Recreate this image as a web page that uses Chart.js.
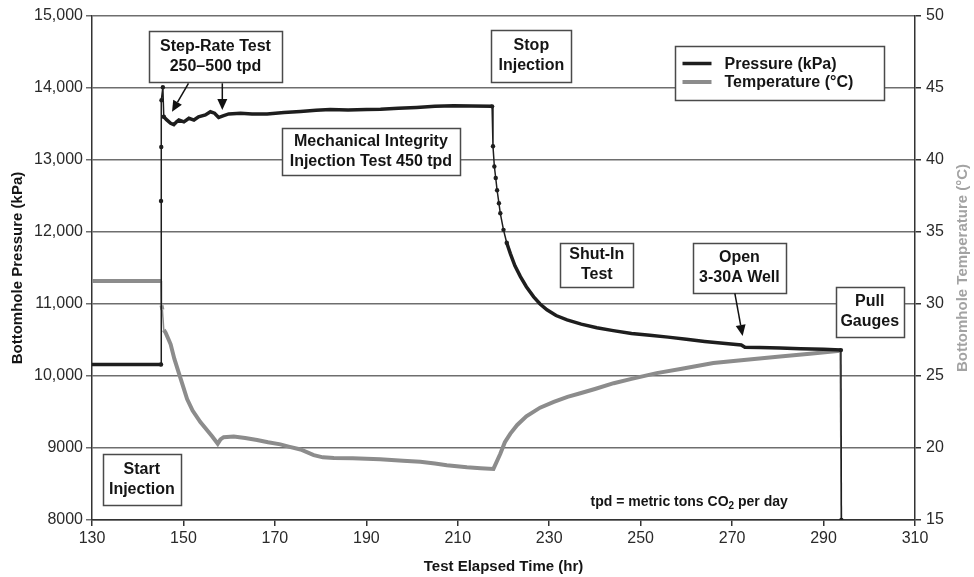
<!DOCTYPE html>
<html>
<head>
<meta charset="utf-8">
<title>Bottomhole pressure and temperature</title>
<script src="https://cdn.jsdelivr.net/npm/chart.js@4.4.1/dist/chart.umd.min.js"></script>
<style>
	body { margin: 0; background: #fff; }
	#wrap { width: 974px; height: 577px; }
</style>
</head>
<body>
<div id="wrap"><canvas id="wellChart" width="974" height="577"></canvas></div>
<script>

// bottomhole pressure, kPa
var pressureHours = [130, 145.1, 145.1, 145.15, 145.2, 145.5, 145.7, 146.3, 147.2, 147.9, 148.5, 149.0, 150.1, 151.2, 152.3, 153.3,
	154.8, 155.9, 156.8, 157.7, 158.5, 159.9, 162.5, 165, 168.3, 172, 175.6, 179, 182.1, 186, 190, 193.1, 197, 201, 205, 209.1,
	213, 217.5, 217.7, 218, 218.3, 218.6, 219, 219.3, 220, 220.7, 221.5, 222.5, 223.7, 225, 226.6, 228, 229.5, 231.5, 233.9,
	237, 240.4, 244, 248, 252, 256, 260, 264, 268, 272, 272.8, 276, 280.5, 285, 290, 293.8, 293.9];
var pressureKpa = [10160, 10160, 12430, 13180, 13830, 14010, 13600, 13560, 13510, 13490, 13530, 13555, 13530, 13580, 13555, 13600,
	13625, 13670, 13650, 13590, 13610, 13640, 13648, 13640, 13640, 13660, 13675, 13690, 13700, 13695, 13700, 13705, 13720, 13730, 13745, 13755,
	13750, 13745, 13190, 12910, 12750, 12580, 12400, 12260, 12030, 11850, 11700, 11530, 11380, 11240, 11100, 11000, 10920, 10840, 10780,
	10720, 10670, 10630, 10590, 10565, 10540, 10510, 10480, 10455, 10430, 10398, 10395, 10390, 10380, 10370, 10360, 8000];

// bottomhole temperature, deg C
var tempHours = [130, 145.1, 145.2, 145.4, 145.7, 146.1, 146.8, 147.2, 148, 149, 149.8, 150.8, 152, 153.7, 155, 156.3, 157.5,
	158.1, 158.8, 161, 163.5, 166.1, 168.5, 171.2, 173, 175.6, 178.5, 180.5, 182.9, 187, 193, 198, 201.8, 205, 207.6, 212, 215,
	217.8, 219.3, 220.3, 221.5, 223, 225, 228, 231, 234, 236.8, 240, 244.1, 248, 253.5, 259, 265.9, 272, 280.5, 287, 293.6, 293.9];
var tempDegC = [31.6, 31.6, 29.9, 29.6, 28.2, 28.0, 27.5, 27.2, 26.2, 25.2, 24.4, 23.4, 22.6, 21.8, 21.3, 20.8, 20.3,
	20.6, 20.75, 20.8, 20.7, 20.56, 20.4, 20.25, 20.1, 19.9, 19.5, 19.35, 19.3, 19.28, 19.22, 19.12, 19.05, 18.92, 18.8, 18.66, 18.6,
	18.55, 19.6, 20.4, 21.0, 21.6, 22.2, 22.8, 23.2, 23.55, 23.8, 24.1, 24.5, 24.8, 25.2, 25.5, 25.9, 26.1, 26.35, 26.55, 26.75, 15];

var hourTicks = [130, 150, 170, 190, 210, 230, 250, 270, 290, 310];
var pressureTicks = [8000, 9000, 10000, 11000, 12000, 13000, 14000, 15000];
var tempTicks = [15, 20, 25, 30, 35, 40, 45, 50];

var seriesNames = ["Pressure (kPa)", "Temperature (\u00b0C)"];
var seriesColors = ["#1e1e1e", "#8c8c8c"];

// call-out boxes, placed in hours / kPa
var noteBoxes = [
	{ lines: ["Step-Rate Test", "250\u2013500 tpd"], hr: 157.0, kpa: 14439, w: 133, h: 51 },
	{ lines: ["Stop", "Injection"], hr: 226.1, kpa: 14444, w: 80, h: 52 },
	{ lines: ["Mechanical Integrity", "Injection Test 450 tpd"], hr: 191.0, kpa: 13118, w: 178, h: 47 },
	{ lines: ["Shut-In", "Test"], hr: 240.4, kpa: 11542, w: 73, h: 44 },
	{ lines: ["Open", "3-30A Well"], hr: 271.6, kpa: 11500, w: 93, h: 50 },
	{ lines: ["Pull", "Gauges"], hr: 300.1, kpa: 10889, w: 68, h: 50 },
	{ lines: ["Start", "Injection"], hr: 140.9, kpa: 8563, w: 78, h: 51 }
];
var noteArrows = [
	{ from: [151.1, 14063], to: [147.5, 13671] },
	{ from: [158.5, 14065], to: [158.5, 13694] },
	{ from: [270.6, 11149], to: [272.3, 10556] }
];

function toPoints(xs, ys) {
	var pts = [];
	for (i = 0; i < xs.length; i++) {
		pts.push({ x: xs[i], y: ys[i] });
	}
	return pts;
}

function fixedTicks(list) {
	return function(scale) {
		scale.ticks = list.map(function(v) { return { value: v }; });
	};
}

function pressureLabel(v) {
	// only the 5-digit values get a thousands separator
	if (v >= 10000) {
		return Math.floor(v / 1000) + "," + ("00" + (v % 1000)).slice(-3);
	}
	return String(v);
}

// near-vertical pieces of a trace are drawn thin
function steepSegmentWidth(wide, ratio) {
	return function(ctx) {
		var dx = Math.abs(ctx.p1.x - ctx.p0.x);
		var dy = Math.abs(ctx.p1.y - ctx.p0.y);
		return dy > ratio * dx ? 1.5 : wide;
	};
}

function steepPointRadius(ctx) {
	var chart = ctx.chart;
	var data = ctx.dataset.data;
	var i = ctx.dataIndex;
	var xs = chart.scales.x, ys = chart.scales[ctx.dataset.yAxisID];
	if (!xs || !ys || !data[i]) return 0;
	var steep = false;
	[i - 1, i + 1].forEach(function(j) {
		if (j < 0 || j >= data.length) return;
		var dx = Math.abs(xs.getPixelForValue(data[j].x) - xs.getPixelForValue(data[i].x));
		var dy = Math.abs(ys.getPixelForValue(data[j].y) - ys.getPixelForValue(data[i].y));
		if (dy > 3 * dx) steep = true;
	});
	return steep ? 2.2 : 0;
}

var BOLD = "bold 16px 'Liberation Sans', Arial, sans-serif";

var notesPlugin = {
	id: "notes",
	afterDatasetsDraw: function(chart) {
		var ctx = chart.ctx;
		var xs = chart.scales.x, ys = chart.scales.y;
		var area = chart.chartArea;

		ctx.save();
		// call-out boxes
		noteBoxes.forEach(function(b) {
			var cx = xs.getPixelForValue(b.hr), cy = ys.getPixelForValue(b.kpa);
			var left = Math.round(cx - b.w / 2) + 0.5, top = Math.round(cy - b.h / 2) + 0.5;
			ctx.fillStyle = "#fff";
			ctx.fillRect(left, top, b.w, b.h);
			ctx.strokeStyle = "#4a4a4a";
			ctx.lineWidth = 1.5;
			ctx.strokeRect(left, top, b.w, b.h);
			ctx.fillStyle = "#151515";
			ctx.font = BOLD;
			ctx.textAlign = "center";
			ctx.textBaseline = "middle";
			ctx.fillText(b.lines[0], cx, cy - 10);
			ctx.fillText(b.lines[1], cx, cy + 10);
		});

		// arrows
		noteArrows.forEach(function(a) {
			var x0 = xs.getPixelForValue(a.from[0]), y0 = ys.getPixelForValue(a.from[1]);
			var x1 = xs.getPixelForValue(a.to[0]), y1 = ys.getPixelForValue(a.to[1]);
			var ang = Math.atan2(y1 - y0, x1 - x0);
			var headLen = 11, headHalf = 5;
			ctx.strokeStyle = "#111";
			ctx.lineWidth = 1.5;
			ctx.beginPath();
			ctx.moveTo(x0, y0);
			ctx.lineTo(x1 - Math.cos(ang) * headLen, y1 - Math.sin(ang) * headLen);
			ctx.stroke();
			ctx.fillStyle = "#111";
			ctx.beginPath();
			ctx.moveTo(x1, y1);
			ctx.lineTo(x1 - Math.cos(ang) * headLen - Math.sin(ang) * headHalf, y1 - Math.sin(ang) * headLen + Math.cos(ang) * headHalf);
			ctx.lineTo(x1 - Math.cos(ang) * headLen + Math.sin(ang) * headHalf, y1 - Math.sin(ang) * headLen - Math.cos(ang) * headHalf);
			ctx.closePath();
			ctx.fill();
		});

		// legend box
		var lx = area.right - 239.5, ly = area.top + 30.5, lw = 209, lh = 54;
		ctx.fillStyle = "#fff";
		ctx.fillRect(lx, ly, lw, lh);
		ctx.strokeStyle = "#4a4a4a";
		ctx.lineWidth = 1.5;
		ctx.strokeRect(lx, ly, lw, lh);
		ctx.font = BOLD;
		ctx.textAlign = "left";
		ctx.textBaseline = "middle";
		for (k = 0; k < seriesNames.length; k++) {
			var rowY = ly + 17 + k * 18.5;
			ctx.strokeStyle = seriesColors[k];
			ctx.lineWidth = k == 0 ? 3.5 : 4;
			ctx.beginPath();
			ctx.moveTo(lx + 7, rowY);
			ctx.lineTo(lx + 36, rowY);
			ctx.stroke();
			ctx.fillStyle = "#151515";
			ctx.fillText(seriesNames[k], lx + 49, rowY + 1);
		}

		// footnote with subscript
		var fx = xs.getPixelForValue(260.6), fy = ys.getPixelForValue(8254);
		var partA = "tpd = metric tons CO", partB = " per day";
		ctx.font = "bold 14px 'Liberation Sans', Arial, sans-serif";
		var wA = ctx.measureText(partA).width;
		ctx.font = "bold 10px 'Liberation Sans', Arial, sans-serif";
		var wSub = ctx.measureText("2").width;
		ctx.font = "bold 14px 'Liberation Sans', Arial, sans-serif";
		var wB = ctx.measureText(partB).width;
		var sx = fx - (wA + wSub + wB) / 2;
		ctx.fillStyle = "#151515";
		ctx.textAlign = "left";
		ctx.textBaseline = "middle";
		ctx.fillText(partA, sx, fy);
		ctx.font = "bold 10px 'Liberation Sans', Arial, sans-serif";
		ctx.fillText("2", sx + wA, fy + 5);
		ctx.font = "bold 14px 'Liberation Sans', Arial, sans-serif";
		ctx.fillText(partB, sx + wA + wSub, fy);
		ctx.restore();
	},
	afterDraw: function(chart) {
		// axis titles
		var ctx = chart.ctx;
		var area = chart.chartArea;
		var midY = (area.top + area.bottom) / 2;
		ctx.save();
		ctx.font = "bold 15px 'Liberation Sans', Arial, sans-serif";
		ctx.textAlign = "center";
		ctx.textBaseline = "middle";

		ctx.fillStyle = "#151515";
		ctx.fillText("Test Elapsed Time (hr)", (area.left + area.right) / 2, 567);

		ctx.save();
		ctx.translate(18, midY);
		ctx.rotate(-Math.PI / 2);
		ctx.fillText("Bottomhole Pressure (kPa)", 0, 0);
		ctx.restore();

		ctx.save();
		ctx.translate(963, midY);
		ctx.rotate(-Math.PI / 2);
		ctx.fillStyle = "#a3a3a3";
		ctx.fillText("Bottomhole Temperature (\u00b0C)", 0, 0);
		ctx.restore();
		ctx.restore();
	}
};

var tickFont = { family: "'Liberation Sans', Arial, sans-serif", size: 16 };

var wellChart = new Chart(document.getElementById("wellChart"), {
	type: "scatter",
	data: {
		datasets: [{
			label: seriesNames[0],
			data: toPoints(pressureHours, pressureKpa),
			yAxisID: "y",
			showLine: true,
			borderColor: seriesColors[0],
			borderWidth: 3.5,
			pointRadius: steepPointRadius,
			pointBackgroundColor: seriesColors[0],
			pointBorderWidth: 0,
			segment: { borderWidth: steepSegmentWidth(3.5, 3) }
		}, {
			label: seriesNames[1],
			data: toPoints(tempHours, tempDegC),
			yAxisID: "y2",
			showLine: true,
			borderColor: seriesColors[1],
			borderWidth: 4,
			pointRadius: 0,
			segment: { borderWidth: steepSegmentWidth(4, 12) }
		}]
	},
	options: {
		responsive: false,
		animation: false,
		layout: { padding: { top: 16, left: 0, right: 0, bottom: 0 } },
		plugins: {
			legend: { display: false },
			tooltip: { enabled: false }
		},
		scales: {
			x: {
				type: "linear",
				min: 130,
				max: 310,
				afterBuildTicks: fixedTicks(hourTicks),
				afterFit: function(scale) { scale.height = 57; },
				grid: { drawOnChartArea: false, drawTicks: true, tickLength: 6, color: "#333", lineWidth: 1.5 },
				border: { display: true, color: "#333", width: 1.5 },
				ticks: { color: "#2a2a2a", font: tickFont, padding: 3, maxRotation: 0 }
			},
			y: {
				type: "linear",
				position: "left",
				min: 8000,
				max: 15000,
				afterBuildTicks: fixedTicks(pressureTicks),
				afterFit: function(scale) { scale.width = 92; },
				grid: { color: "#6e6e6e", lineWidth: 1.5, tickLength: 6 },
				border: { display: true, color: "#333", width: 1.5 },
				ticks: { color: "#2a2a2a", font: tickFont, padding: 3, callback: pressureLabel }
			},
			y2: {
				type: "linear",
				position: "right",
				min: 15,
				max: 50,
				afterBuildTicks: fixedTicks(tempTicks),
				afterFit: function(scale) { scale.width = 59; },
				grid: { drawOnChartArea: false, tickLength: 6, color: "#333", lineWidth: 1.5 },
				border: { display: true, color: "#333", width: 1.5 },
				ticks: { color: "#2a2a2a", font: tickFont, padding: 5 }
			}
		}
	},
	plugins: [notesPlugin]
});

</script>
</body>
</html>
